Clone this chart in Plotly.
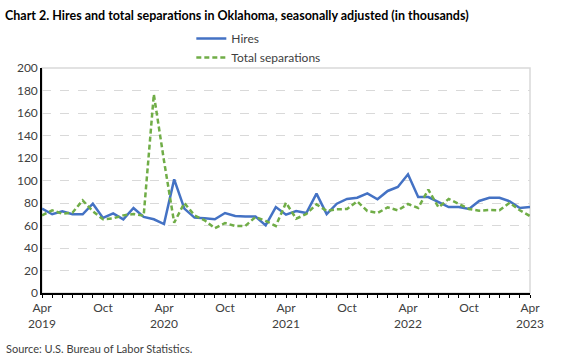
import plotly.graph_objects as go

months = ["Apr 2019","May 2019","Jun 2019","Jul 2019","Aug 2019","Sep 2019","Oct 2019","Nov 2019","Dec 2019",
          "Jan 2020","Feb 2020","Mar 2020","Apr 2020","May 2020","Jun 2020","Jul 2020","Aug 2020","Sep 2020",
          "Oct 2020","Nov 2020","Dec 2020","Jan 2021","Feb 2021","Mar 2021","Apr 2021","May 2021","Jun 2021",
          "Jul 2021","Aug 2021","Sep 2021","Oct 2021","Nov 2021","Dec 2021","Jan 2022","Feb 2022","Mar 2022",
          "Apr 2022","May 2022","Jun 2022","Jul 2022","Aug 2022","Sep 2022","Oct 2022","Nov 2022","Dec 2022",
          "Jan 2023","Feb 2023","Mar 2023","Apr 2023"]

hires = [75, 70, 72.6, 70, 70, 79.4, 66.7, 70.8, 65.5,
         75.6, 67.6, 65.5, 61.3, 101, 75, 67, 66.4, 65.5,
         71.1, 68.4, 67.9, 67.9, 60.1, 76.4, 69.6, 72.9, 71.1,
         88.3, 70.2, 79.4, 83.6, 84.7, 88.6, 83.3, 90.7, 94.2,
         105.5, 85.3, 85.3, 80.9, 76.4, 76.4, 74.7, 81.8, 84.7,
         84.7, 81.5, 75.6, 76.4]

separations = [69, 73.5, 70.5, 71.4, 82.4, 72.6, 65.5, 66.4, 69,
               70.2, 68.7, 176.6, 117.5, 62.5, 80, 69, 64.6, 57.5,
               62.2, 59.6, 59.6, 67.6, 64, 59.6, 80.3, 66, 70.2,
               78.8, 72.9, 74.4, 74.7, 81.5, 72.9, 71.1, 76.1, 73.5,
               79.1, 75.6, 91.9, 76.1, 83.6, 79.4, 74.7, 73.2, 73.8,
               73.5, 80.3, 73.5, 68.4]

tick_positions = [0, 6, 12, 18, 24, 30, 36, 42, 48]
tick_labels = ["Apr<br>2019", "Oct", "Apr<br>2020", "Oct", "Apr<br>2021", "Oct", "Apr<br>2022", "Oct", "Apr<br>2023"]

FONT = "Lato"
x = list(range(len(months)))

fig = go.Figure()
fig.add_trace(go.Scatter(x=x, y=hires, mode="lines", name="Hires", text=months,
                         line=dict(color="#4472C4", width=2.5)))
fig.add_trace(go.Scatter(x=x, y=separations, mode="lines", name="Total separations", text=months,
                         line=dict(color="#70AD47", width=2.5, dash="5px,3px")))

fig.update_layout(
    width=563, height=356,
    margin=dict(l=42, r=33, t=68, b=63, autoexpand=False),
    paper_bgcolor="white", plot_bgcolor="white",
    font=dict(family=FONT, size=11, color="#404040"),
    showlegend=True,
    legend=dict(x=0.306, y=1 - 4 / 225, xanchor="left", yanchor="bottom", orientation="v",
                font=dict(family=FONT, size=12, color="#404040"), tracegroupgap=0,
                bgcolor="rgba(0,0,0,0)"),
    xaxis=dict(range=[0, 48], tickmode="array", tickvals=tick_positions, ticktext=tick_labels,
               showgrid=False, zeroline=False, showline=True, linecolor="black", linewidth=1.5,
               ticks="outside", ticklen=3, tickcolor="black",
               minor=dict(dtick=1, tick0=0, ticks="outside", ticklen=3, tickcolor="black", showgrid=False),
               tickfont=dict(family=FONT, size=12, color="#404040")),
    yaxis=dict(range=[0, 200], dtick=20, showgrid=True, gridcolor="#D9D9D9", griddash="dash",
               zeroline=False, showline=True, linecolor="black", linewidth=1.5, ticks="",
               tickfont=dict(family=FONT, size=12, color="#404040")),
    shapes=[dict(type="rect", xref="paper", yref="paper", x0=0, x1=1, y0=0, y1=1,
                 line=dict(color="#D9D9D9", width=1.5), layer="below")],
    annotations=[
        dict(text="<b>Chart 2. Hires and total separations in Oklahoma, seasonally adjusted (in thousands)</b>",
             xref="paper", yref="paper", x=-39/488, y=1 + (68 - 15) / 225, xanchor="left", yanchor="middle",
             showarrow=False, font=dict(family=FONT, size=12.5, color="#000000")),
        dict(text="Source: U.S. Bureau of Labor Statistics.",
             xref="paper", yref="paper", x=-38/488, y=-(348 - 293) / 225, xanchor="left", yanchor="middle",
             showarrow=False, font=dict(family=FONT, size=11, color="#404040")),
    ],
)

fig.write_html("out.html", config={"displayModeBar": False},
               post_script="document.body.style.margin='0';document.body.style.overflow='hidden';")
